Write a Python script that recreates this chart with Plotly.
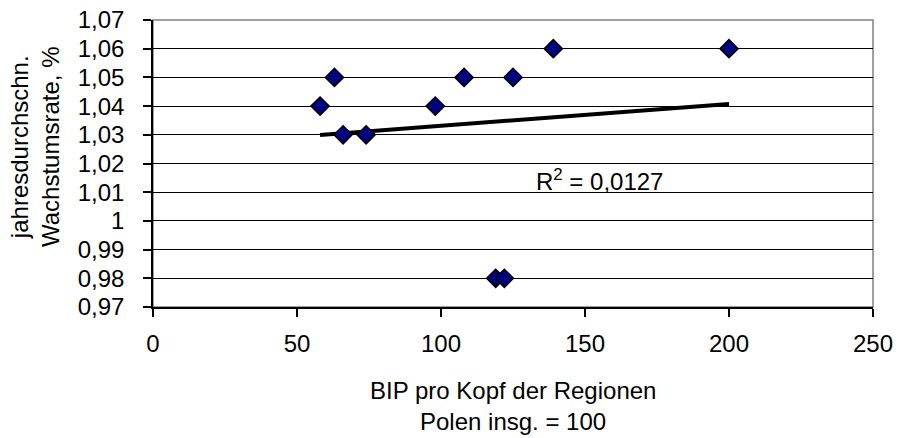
import numpy as np
import plotly.graph_objects as go

bip = [58, 63, 66, 74, 98, 108, 119, 122, 125, 139, 200]
wachstum = [1.04, 1.05, 1.03, 1.03, 1.04, 1.05, 0.98, 0.98, 1.05, 1.06, 1.06]

y_ticks = [0.97, 0.98, 0.99, 1.00, 1.01, 1.02, 1.03, 1.04, 1.05, 1.06, 1.07]
y_ticktext = ["0,97", "0,98", "0,99", "1", "1,01", "1,02", "1,03", "1,04", "1,05", "1,06", "1,07"]
x_ticks = [0, 50, 100, 150, 200, 250]

x_title_lines = ["BIP pro Kopf der Regionen", "Polen insg. = 100"]
y_title = "jahresdurchschn.<br>Wachstumsrate, %"

slope, intercept = np.polyfit(bip, wachstum, 1)
pred = slope * np.array(bip) + intercept
r2 = 1 - np.sum((np.array(wachstum) - pred) ** 2) / np.sum((np.array(wachstum) - np.mean(wachstum)) ** 2)
trend_x = [min(bip), max(bip)]
trend_y = [slope * v + intercept for v in trend_x]

FONT = "Liberation Sans, Arial, sans-serif"
FS = 24

fig = go.Figure()
fig.add_trace(go.Scatter(x=trend_x, y=trend_y, mode="lines",
                         line=dict(color="black", width=4), hoverinfo="skip"))
fig.add_trace(go.Scatter(x=bip, y=wachstum, mode="markers",
                         marker=dict(symbol="diamond", size=14, color="#000080",
                                     line=dict(color="black", width=1.5))))

fig.add_annotation(x=155.2, y=1.0142, xref="x", yref="y",
                   text="R<sup>2</sup> = " + f"{r2:.4f}".replace(".", ","),
                   showarrow=False, font=dict(family=FONT, size=FS, color="black"))

# axis titles
fig.add_annotation(x=-(153 - 35) / 720, y=(307 - 147) / 287, xref="paper", yref="paper",
                   textangle=-90, text=y_title, showarrow=False,
                   xanchor="center", yanchor="middle",
                   font=dict(family=FONT, size=FS, color="black"))
for line, cy in zip(x_title_lines, [390, 421]):
    fig.add_annotation(x=0.5, y=-(cy - 307) / 287, xref="paper", yref="paper",
                       text=line, showarrow=False, xanchor="center", yanchor="middle",
                       font=dict(family=FONT, size=FS, color="black"))

fig.update_layout(
    width=898, height=438,
    margin=dict(l=153, r=25, t=20, b=131),
    paper_bgcolor="white", plot_bgcolor="white",
    showlegend=False,
    font=dict(family=FONT, size=FS, color="black"),
    xaxis=dict(range=[0, 250], tickvals=x_ticks, showgrid=False, zeroline=False,
               showline=True, linecolor="black", linewidth=1.5,
               ticks="outside", ticklen=8, tickcolor="black", tickwidth=1.5,
               tickfont=dict(size=FS), ticklabelstandoff=6, automargin=False),
    yaxis=dict(range=[0.97, 1.07], tickvals=y_ticks, ticktext=y_ticktext,
               showgrid=True, gridcolor="black", gridwidth=1, zeroline=False,
               showline=True, linecolor="black", linewidth=1.5,
               ticks="outside", ticklen=8, tickcolor="black", tickwidth=1.5,
               tickfont=dict(size=FS), ticklabelstandoff=14, automargin=False),
)
fig.add_shape(type="rect", xref="paper", yref="paper", x0=0, x1=1, y0=0, y1=1,
              line=dict(color="#808080", width=1.5), layer="below")

fig.write_html("out.html", config={"displayModeBar": False},
               post_script="document.body.style.margin='0';document.body.style.overflow='hidden';")
